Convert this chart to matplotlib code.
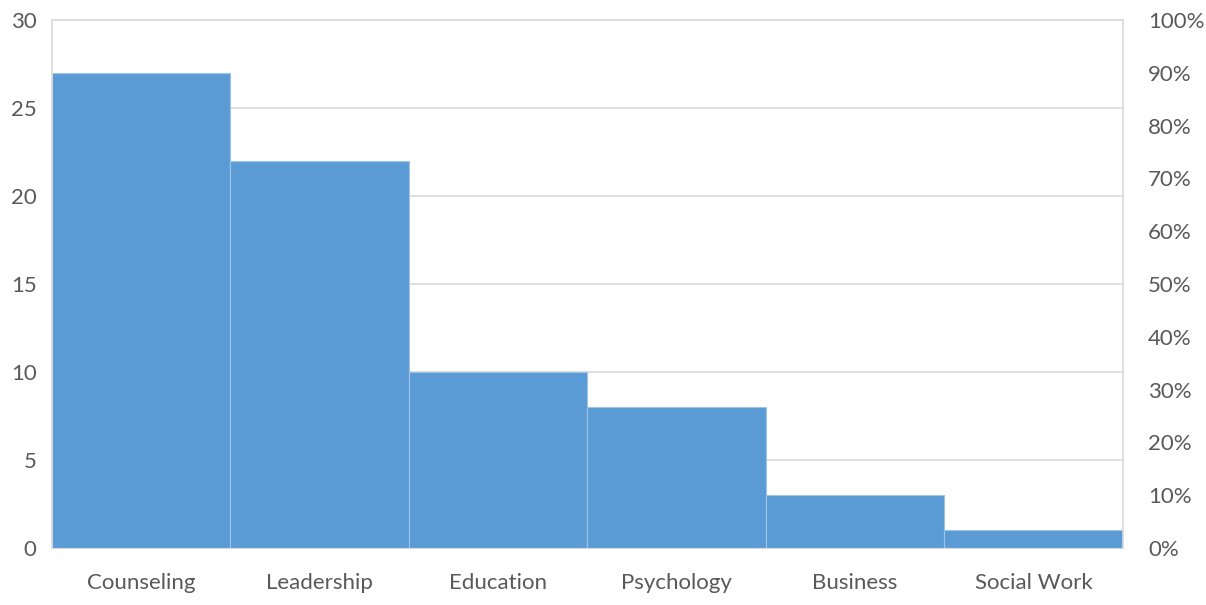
import matplotlib.pyplot as plt
import numpy as np
from matplotlib.ticker import PercentFormatter

categories = ["Counseling", "Leadership", "Education", "Psychology", "Business", "Social Work"]
counts = [27, 22, 10, 8, 3, 1]

bar_color = "#5B9BD5"
grid_color = "#D9D9D9"
text_color = "#595959"

plt.rcParams["font.family"] = ["Lato", "DejaVu Sans"]

fig = plt.figure(figsize=(12.06, 6.05), dpi=100)
ax = fig.add_axes([0.0431, 0.0942, 0.888, 0.8728])

x = np.arange(len(categories))
ax.bar(x, counts, width=1.0, color=bar_color, edgecolor="#9DC3E6", linewidth=0.8, zorder=2)
ax.set_xlim(-0.5, len(categories) - 0.5)
ax.set_ylim(0, 30)
ax.set_yticks(range(0, 31, 5))
ax.set_xticks(x)
ax.set_xticklabels(categories)
ax.yaxis.grid(True, color=grid_color, linewidth=1.2, zorder=0)
ax.set_axisbelow(True)

for side in ["left", "top", "right"]:
    ax.spines[side].set_color(grid_color)
    ax.spines[side].set_linewidth(1.2)
ax.spines["bottom"].set_color(grid_color)
ax.tick_params(axis="x", length=0, labelsize=16, colors=text_color, pad=18)
ax.tick_params(axis="y", length=0, labelsize=16, colors=text_color, pad=11)

ax2 = ax.twinx()
ax2.set_ylim(0, 1)
ax2.set_yticks(np.linspace(0, 1, 11))
ax2.yaxis.set_major_formatter(PercentFormatter(1.0, decimals=0))
ax2.tick_params(axis="y", length=0, labelsize=16, colors=text_color, pad=18)
for side in ["left", "top", "right", "bottom"]:
    ax2.spines[side].set_visible(False)

fig.savefig("out.png", dpi=100)
